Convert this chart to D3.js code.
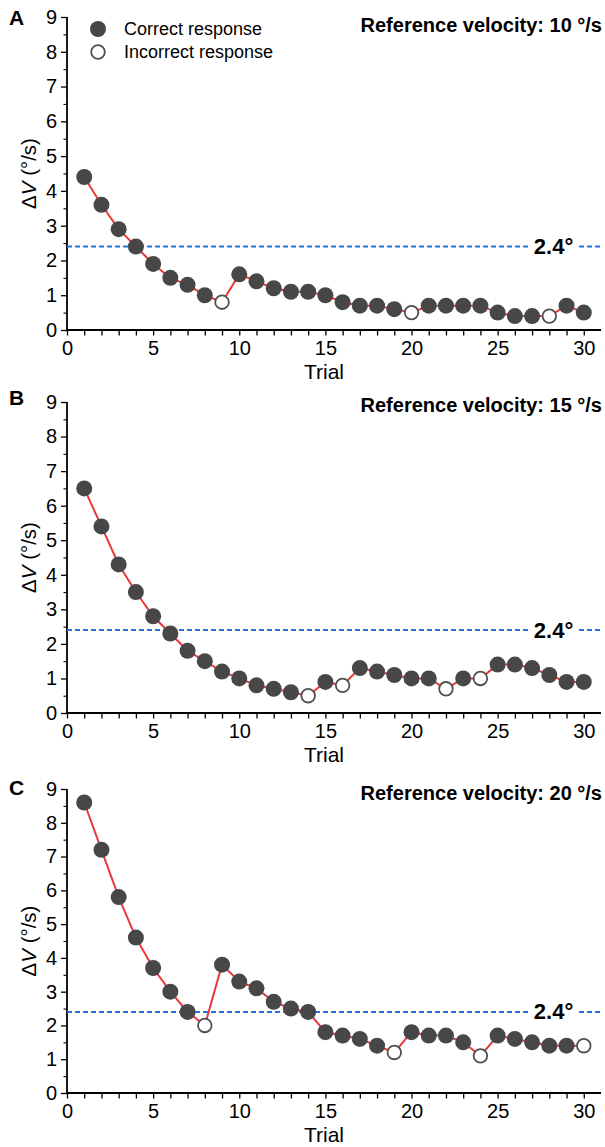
<!DOCTYPE html>
<html lang="en">
<head>
<meta charset="UTF-8">
<title>Staircase trials</title>
<script src="https://d3js.org/d3.v7.min.js"></script>
<style>
  body { margin: 0; background: #fff; }
  text { font-family: "Liberation Sans", Arial, sans-serif; }
</style>
</head>
<body>
<svg width="605" height="1147"></svg>
<script>
// data
const trials = d3.range(1, 31);
const velA = [4.4, 3.6, 2.9, 2.4, 1.9, 1.5, 1.3, 1.0, 0.8, 1.6, 1.4, 1.2, 1.1, 1.1, 1.0,
              0.8, 0.7, 0.7, 0.6, 0.5, 0.7, 0.7, 0.7, 0.7, 0.5, 0.4, 0.4, 0.4, 0.7, 0.5];
const wrongA = [9, 20, 28];
const velB = [6.5, 5.4, 4.3, 3.5, 2.8, 2.3, 1.8, 1.5, 1.2, 1.0, 0.8, 0.7, 0.6, 0.5, 0.9,
              0.8, 1.3, 1.2, 1.1, 1.0, 1.0, 0.7, 1.0, 1.0, 1.4, 1.4, 1.3, 1.1, 0.9, 0.9];
const wrongB = [14, 16, 22, 24];
const velC = [8.6, 7.2, 5.8, 4.6, 3.7, 3.0, 2.4, 2.0, 3.8, 3.3, 3.1, 2.7, 2.5, 2.4, 1.8,
              1.7, 1.6, 1.4, 1.2, 1.8, 1.7, 1.7, 1.5, 1.1, 1.7, 1.6, 1.5, 1.4, 1.4, 1.4];
const wrongC = [8, 19, 24, 30];
const threshold = 2.4;
const yTicks = [0, 1, 2, 3, 4, 5, 6, 7, 8, 9];
const xTicks = [0, 5, 10, 15, 20, 25, 30];

const panels = [
  {letter: "A", ref: 10, vals: velA, wrong: wrongA, top: 17, bottom: 330, letterY: 25, titleY: 32, legend: true},
  {letter: "B", ref: 15, vals: velB, wrong: wrongB, top: 402, bottom: 713, letterY: 405, titleY: 412, legend: false},
  {letter: "C", ref: 20, vals: velC, wrong: wrongC, top: 789, bottom: 1093, letterY: 795, titleY: 800, legend: false}
];

const svg = d3.select("svg");
const left = 67, right = 601;
const dotFill = "#474747", lineRed = "#e8383a", dashBlue = "#1e73e6";

const x = d3.scaleLinear().domain([0, 31]).range([left, right]);

panels.forEach(p => {
  const y = d3.scaleLinear().domain([0, 9]).range([p.bottom, p.top]);
  const g = svg.append("g");

  // y axis
  const ya = g.append("g").attr("transform", `translate(${left},0)`)
    .call(d3.axisLeft(y).tickValues(yTicks).tickSize(6).tickPadding(4));
  ya.select(".domain").attr("stroke-width", 1.8).attr("d", `M0,${p.top}V${p.bottom}`);
  ya.selectAll(".tick line").attr("stroke-width", 1.3);
  ya.selectAll(".tick text").attr("font-size", 20).attr("fill", "#000");
  g.append("g").attr("transform", `translate(${left},0)`)
    .call(d3.axisLeft(y).tickValues(d3.range(0.5, 9, 1)).tickSize(3.5).tickFormat(""))
    .call(a => a.select(".domain").remove())
    .selectAll("line").attr("stroke-width", 1.1);

  // x axis
  const xa = g.append("g").attr("transform", `translate(0,${p.bottom})`)
    .call(d3.axisBottom(x).tickValues(xTicks).tickSize(5.5).tickPadding(5));
  xa.select(".domain").attr("stroke-width", 1.8).attr("d", `M${left},0H${right}`);
  xa.selectAll(".tick line").attr("stroke-width", 1.3);
  xa.selectAll(".tick text").attr("font-size", 20).attr("fill", "#000");
  g.append("g").attr("transform", `translate(0,${p.bottom})`)
    .call(d3.axisBottom(x).tickValues(trials.filter(t => t % 5 !== 0)).tickSize(5.5).tickFormat(""))
    .call(a => a.select(".domain").remove())
    .selectAll("line").attr("stroke-width", 1.3);

  g.append("text").attr("x", 324).attr("y", p.bottom + 49)
    .attr("text-anchor", "middle").attr("font-size", 21).text("Trial");

  // y title
  const yt = g.append("text")
    .attr("transform", `translate(36,${(p.top + p.bottom) / 2}) rotate(-90)`)
    .attr("text-anchor", "middle").attr("font-size", 20.5);
  yt.append("tspan").text("Δ");
  yt.append("tspan").attr("font-style", "italic").text("V");
  yt.append("tspan").text(" (°/s)");

  // panel letter and title
  g.append("text").attr("x", 9).attr("y", p.letterY)
    .attr("font-size", 21).attr("font-weight", "bold").text(p.letter);
  g.append("text").attr("x", 602).attr("y", p.titleY)
    .attr("text-anchor", "end").attr("font-size", 20).attr("font-weight", "bold")
    .text(`Reference velocity: ${p.ref} °/s`);

  // threshold line with its label
  g.append("line").attr("x1", left).attr("x2", right)
    .attr("y1", y(threshold)).attr("y2", y(threshold))
    .attr("stroke", dashBlue).attr("stroke-width", 2).attr("stroke-dasharray", "5,3");
  g.append("rect").attr("x", 531).attr("y", y(threshold) - 11)
    .attr("width", 46).attr("height", 22).attr("fill", "#fff");
  g.append("text").attr("x", 553.5).attr("y", y(threshold) + 7.5)
    .attr("text-anchor", "middle").attr("font-size", 22).attr("font-weight", "bold")
    .text(`${threshold}°`);

  // data
  const pts = trials.map((t, i) => ({t, v: p.vals[i], wrong: p.wrong.includes(t)}));
  g.append("path").datum(pts)
    .attr("fill", "none").attr("stroke", lineRed).attr("stroke-width", 2)
    .attr("d", d3.line().x(d => x(d.t)).y(d => y(d.v)));
  g.selectAll("circle.pt").data(pts).join("circle")
    .attr("class", "pt")
    .attr("cx", d => x(d.t)).attr("cy", d => y(d.v))
    .attr("r", d => d.wrong ? 6.8 : 8)
    .attr("fill", d => d.wrong ? "#fff" : dotFill)
    .attr("stroke", d => d.wrong ? "#505050" : "none")
    .attr("stroke-width", 1.8);

  if (p.legend) {
    const lg = g.append("g");
    lg.append("circle").attr("cx", 98).attr("cy", 29).attr("r", 8).attr("fill", dotFill);
    lg.append("circle").attr("cx", 98).attr("cy", 52).attr("r", 6.8)
      .attr("fill", "#fff").attr("stroke", "#505050").attr("stroke-width", 1.8);
    lg.append("text").attr("x", 124).attr("y", 35).attr("font-size", 18).text("Correct response");
    lg.append("text").attr("x", 124).attr("y", 58).attr("font-size", 18).text("Incorrect response");
  }
});
</script>
</body>
</html>
